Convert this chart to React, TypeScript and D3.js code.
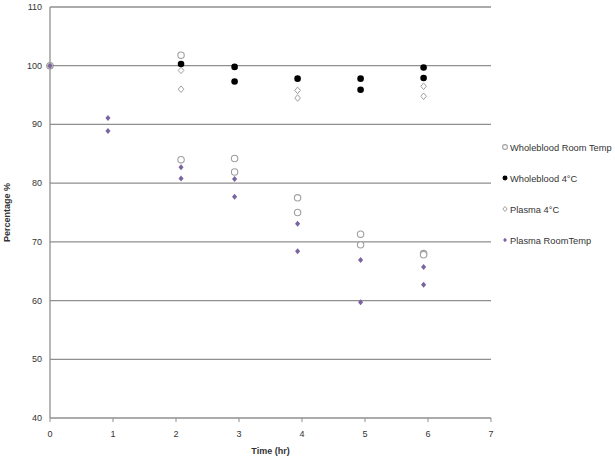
import { useEffect } from 'react';
import * as d3 from 'd3';

// time points (hr) and replicate values
const wbRoomTime = [0, 2.08, 2.08, 2.93, 2.93, 3.93, 3.93, 4.93, 4.93, 5.93, 5.93];
const wbRoomVals = [100, 101.8, 84.0, 84.2, 81.9, 77.5, 75.0, 71.3, 69.5, 68.0, 67.8];

const wb4Time = [0, 2.08, 2.93, 2.93, 3.93, 4.93, 4.93, 5.93, 5.93];
const wb4Vals = [100, 100.3, 99.8, 97.3, 97.8, 97.8, 95.9, 99.7, 97.9];

const pl4Time = [0, 2.08, 2.08, 3.93, 3.93, 5.93, 5.93];
const pl4Vals = [100, 99.2, 96.0, 95.8, 94.5, 96.5, 94.8];

const plRoomTime = [0, 0.92, 0.92, 2.08, 2.08, 2.93, 2.93, 3.93, 3.93, 4.93, 4.93, 5.93, 5.93];
const plRoomVals = [100, 91.1, 88.9, 82.7, 80.8, 80.7, 77.7, 73.1, 68.4, 66.9, 59.7, 65.7, 62.7];

const xTicks = [0, 1, 2, 3, 4, 5, 6, 7];
const yTicks = [40, 50, 60, 70, 80, 90, 100, 110];

const seriesNames = ['Wholeblood Room Temp', 'Wholeblood 4°C', 'Plasma 4°C', 'Plasma RoomTemp'];

const W = 615;
const H = 461;
const margin = { left: 50, right: 124, top: 7, bottom: 43 };
const font = '"Liberation Sans", Arial, sans-serif';
const purple = '#7a64a0';

type Kind = 'openCircle' | 'dot' | 'openDiamond' | 'purpleDiamond';
const kinds: Kind[] = ['openCircle', 'dot', 'openDiamond', 'purpleDiamond'];

function Marker({ kind, x, y, k = 1 }: { kind: Kind; x: number; y: number; k?: number }) {
  if (kind === 'openCircle') return <circle cx={x} cy={y} r={3.2 * k} fill="#fff" stroke="#a0a0a0" strokeWidth={1.1} />;
  if (kind === 'dot') return <circle cx={x} cy={y} r={3.3 * k} fill="#000" />;
  const s = (kind === 'openDiamond' ? 3.3 : 3) * k;
  const d = `M${x},${y - s}L${x + s * 0.85},${y}L${x},${y + s}L${x - s * 0.85},${y}Z`;
  if (kind === 'openDiamond') return <path d={d} fill="#fff" stroke="#a0a0a0" strokeWidth={1} />;
  return <path d={d} fill={purple} />;
}

export default function App() {
  useEffect(() => {
    document.body.style.margin = '0';
  }, []);

  const x = d3.scaleLinear().domain([0, 7]).range([margin.left, W - margin.right]);
  const y = d3.scaleLinear().domain([40, 110]).range([H - margin.bottom, margin.top]);

  // drawing order: black dots first so the shared 100% start point reads as grey ring + purple
  const series: { kind: Kind; t: number[]; v: number[] }[] = [
    { kind: 'dot', t: wb4Time, v: wb4Vals },
    { kind: 'openCircle', t: wbRoomTime, v: wbRoomVals },
    { kind: 'openDiamond', t: pl4Time, v: pl4Vals },
    { kind: 'purpleDiamond', t: plRoomTime, v: plRoomVals },
  ];

  const x0 = x(0);
  const y0 = y(40);

  return (
    <svg width={W} height={H} style={{ display: 'block', background: '#fff' }}>
      {/* gridlines */}
      {yTicks.filter(t => t > 40).map(t => (
        <line key={t} x1={x0} x2={x(7)} y1={y(t)} y2={y(t)} stroke="#8f8f8f" strokeWidth={1.3} />
      ))}
      {/* axes */}
      <line x1={x0} x2={x0} y1={y(110)} y2={y0} stroke="#8f8f8f" strokeWidth={1.3} />
      <line x1={x0} x2={x(7)} y1={y0} y2={y0} stroke="#8f8f8f" strokeWidth={1.3} />
      {xTicks.map(t => (
        <g key={t}>
          <line x1={x(t)} x2={x(t)} y1={y0} y2={y0 + 4} stroke="#8f8f8f" strokeWidth={1} />
          <text x={x(t)} y={y0 + 19} textAnchor="middle" fontFamily={font} fontSize={9} fill="#333">{t}</text>
        </g>
      ))}
      {yTicks.map(t => (
        <text key={t} x={x0 - 8} y={y(t) + 3} textAnchor="end" fontFamily={font} fontSize={9} fill="#333">{t}</text>
      ))}
      <text x={(x0 + x(7)) / 2} y={H - 7} textAnchor="middle" fontFamily={font} fontSize={9} fontWeight="bold" fill="#333">Time (hr)</text>
      <text transform={`translate(10,${(y(110) + y0) / 2}) rotate(-90)`} textAnchor="middle" fontFamily={font} fontSize={9} fontWeight="bold" fill="#333">Percentage %</text>

      {/* points */}
      {series.map(s => s.t.map((t, i) => (
        <Marker key={`${s.kind}-${i}`} kind={s.kind} x={x(t)} y={y(s.v[i])} />
      )))}

      {/* legend */}
      {seriesNames.map((name, i) => {
        const ly = 147 + i * 31;
        return (
          <g key={name}>
            <Marker kind={kinds[i]} x={505} y={ly} k={0.75} />
            <text x={510} y={ly + 3.5} fontFamily={font} fontSize={9.3} fill="#333">{name}</text>
          </g>
        );
      })}
    </svg>
  );
}
